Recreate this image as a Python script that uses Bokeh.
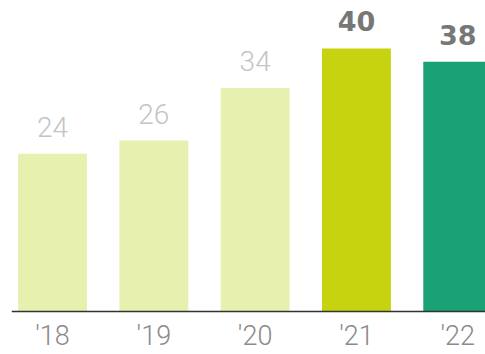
from bokeh.plotting import figure
from bokeh.models import ColumnDataSource, Span
from bokeh.core.properties import value
from bokeh.embed import file_html
from bokeh.resources import INLINE

years = ["'18", "'19", "'20", "'21", "'22"]
values = [24, 26, 34, 40, 38]
colors = ["#e8f0b0", "#e8f0b0", "#e8f0b0", "#c6d30e", "#1aa276"]
label_colors = ["#c4c4c4", "#c4c4c4", "#c4c4c4", "#777777", "#777777"]
label_fonts = ["Roboto Light, Liberation Sans"] * 3 + ["DejaVu Sans"] * 2
label_styles = ["normal", "normal", "normal", "bold", "bold"]
label_sizes = ["28px", "28px", "28px", "27px", "27px"]

xs = list(range(len(years)))
src = ColumnDataSource(dict(x=xs, v=values, c=colors, t=[str(v) for v in values],
                            lc=label_colors, lf=label_fonts, ls=label_styles, fs=label_sizes,
                            zero=[0] * len(xs), yl=years))

p = figure(width=485, height=354, output_backend="svg", toolbar_location=None,
           x_range=(-0.405, 4.274), y_range=(-6.54, 47.3),
           min_border_left=11, min_border_right=0, min_border_top=0, min_border_bottom=0)
p.outline_line_color = None
p.background_fill_color = "white"
p.border_fill_color = "white"
p.grid.visible = False
p.axis.visible = False

p.vbar(x="x", top="v", width=0.68, color="c", source=src, line_color=None)
p.text(x="x", y="v", text="t", source=src, text_align="center", text_baseline="alphabetic",
       y_offset=-27, text_font="lf", text_font_size="fs",
       text_font_style="ls", text_color="lc")

# category labels under the baseline
p.text(x="x", y="zero", text="yl", source=src, text_align="center", text_baseline="alphabetic",
       y_offset=25, text_font=value("Roboto Light, Liberation Sans"), text_font_size="27px",
       text_color="#8a8a8a")

p.add_layout(Span(location=0, dimension="width", line_color="#333333", line_width=1.5))

open("out.html", "w").write(file_html(p, INLINE))
